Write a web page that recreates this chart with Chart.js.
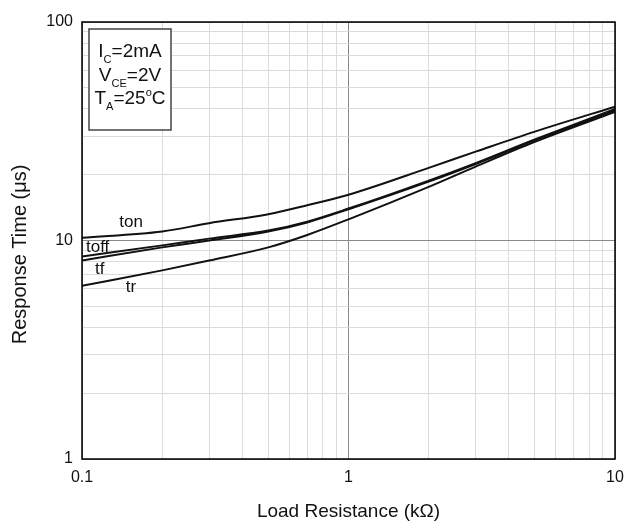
<!DOCTYPE html>
<html>
<head>
<meta charset="utf-8">
<script src="https://cdn.jsdelivr.net/npm/chart.js@4"></script>
<style>
html, body { margin: 0; padding: 0; background: #fff; }
#wrap { width: 635px; height: 523px; }
</style>
</head>
<body>
<div id="wrap"><canvas id="chart"></canvas></div>
<script>
// load resistance (kOhm) and response times (us)
const loadRes = [0.1, 0.2, 0.3, 0.5, 0.7, 1, 2, 3, 5, 10];
const tOn  = [10.3, 11.0, 12.0, 13.2, 14.5, 16.2, 21.5, 25.5, 31.5, 41.0];
const tOff = [8.45, 9.5, 10.2, 11.1, 12.2, 14.0, 18.8, 22.6, 29.0, 40.0];
const tF   = [8.1, 9.3, 10.0, 11.0, 12.1, 13.9, 18.6, 22.4, 28.8, 39.3];
const tR   = [6.2, 7.3, 8.1, 9.3, 10.6, 12.5, 17.6, 21.8, 28.3, 38.8];

const xTicks = [0.1, 1, 10];
const yTicks = [1, 10, 100];
const curveNames = ['ton', 'toff', 'tf', 'tr'];

const font = "'Liberation Sans', Arial, sans-serif";

function pts(ys) {
    return loadRes.map((x, i) => ({x: x, y: ys[i]}));
}

// every 1..9 step of each decade, for the grid
function logSteps(min, max) {
    let out = [];
    for (let d = min; d < max * 0.999; d *= 10) {
        for (let k = 1; k <= 9; k++) out.push({value: +(k * d).toPrecision(6)});
    }
    out.push({value: max});
    return out;
}

function isMajor(v) {
    return Math.abs(Math.log10(v) - Math.round(Math.log10(v))) < 1e-6;
}

function labelFor(list) {
    return function (v) {
        let hit = list.find(t => Math.abs(t - v) / t < 1e-6);
        return hit === undefined ? '' : String(hit);
    };
}

// where the curve names sit (data coords, left/baseline)
const nameAt = [[0.138, 11.5], [0.1035, 8.9], [0.112, 7.0], [0.146, 5.79]];

const extras = {
    id: 'extras',
    afterDatasetsDraw(chart) {
        const ctx = chart.ctx;
        const a = chart.chartArea;
        const xs = chart.scales.x, ys = chart.scales.y;
        ctx.save();

        // frame
        ctx.strokeStyle = '#000';
        ctx.lineWidth = 1.5;
        ctx.strokeRect(a.left, a.top, a.right - a.left, a.bottom - a.top);

        // curve names
        ctx.fillStyle = '#111';
        ctx.font = '17px ' + font;
        ctx.textAlign = 'left';
        ctx.textBaseline = 'alphabetic';
        curveNames.forEach((n, i) => {
            ctx.fillText(n, xs.getPixelForValue(nameAt[i][0]), ys.getPixelForValue(nameAt[i][1]));
        });

        // conditions box
        const bx = a.left + 7, by = a.top + 7;
        ctx.fillStyle = '#fff';
        ctx.fillRect(bx, by, 82, 101);
        ctx.strokeStyle = '#444';
        ctx.lineWidth = 1.5;
        ctx.strokeRect(bx, by, 82, 101);

        const lines = [
            [['I', 0], ['C', 1], ['=2mA', 0]],
            [['V', 0], ['CE', 1], ['=2V', 0]],
            [['T', 0], ['A', 1], ['=25', 0], ['o', 2], ['C', 0]]
        ];
        const cx = bx + 41;
        lines.forEach((parts, li) => {
            const base = by + 28 + li * 23.5;
            let w = 0;
            parts.forEach(p => {
                ctx.font = (p[1] ? '11px ' : '19px ') + font;
                p.w = ctx.measureText(p[0]).width;
                w += p.w;
            });
            let x = cx - w / 2;
            ctx.fillStyle = '#111';
            ctx.textAlign = 'left';
            parts.forEach(p => {
                ctx.font = (p[1] ? '11px ' : '19px ') + font;
                let dy = p[1] === 1 ? 6 : (p[1] === 2 ? -8 : 0);
                ctx.fillText(p[0], x, base + dy);
                x += p.w;
            });
        });
        ctx.restore();
    }
};

new Chart(document.getElementById('chart'), {
    type: 'line',
    data: {
        datasets: [tOn, tOff, tF, tR].map((d, i) => ({
            label: curveNames[i],
            data: pts(d),
            borderColor: '#111',
            borderWidth: 2,
            pointRadius: 0,
            fill: false,
            cubicInterpolationMode: 'monotone'
        }))
    },
    options: {
        responsive: true,
        maintainAspectRatio: false,
        animation: false,
        layout: { padding: { top: 22, right: 20, left: 0, bottom: 0 } },
        plugins: {
            legend: { display: false },
            tooltip: { enabled: false }
        },
        scales: {
            x: {
                type: 'logarithmic',
                min: 0.1,
                max: 10,
                afterBuildTicks: s => { s.ticks = logSteps(0.1, 10); },
                afterFit: s => { s.height = 64; },
                grid: {
                    drawTicks: false,
                    color: c => isMajor(c.tick.value) ? '#8a8a8a' : '#dcdcdc',
                    lineWidth: 1
                },
                border: { display: false },
                ticks: {
                    autoSkip: false,
                    maxRotation: 0,
                    padding: 9,
                    color: '#111',
                    font: { family: font, size: 16 },
                    callback: labelFor(xTicks)
                },
                title: {
                    display: true,
                    text: 'Load Resistance (kΩ)',
                    color: '#111',
                    font: { family: font, size: 19 },
                    padding: { top: 0, bottom: 0 }
                }
            },
            y: {
                type: 'logarithmic',
                min: 1,
                max: 100,
                afterBuildTicks: s => { s.ticks = logSteps(1, 100); },
                afterFit: s => { s.width = 82; },
                grid: {
                    drawTicks: false,
                    color: c => isMajor(c.tick.value) ? '#8a8a8a' : '#dcdcdc',
                    lineWidth: 1
                },
                border: { display: false },
                ticks: {
                    autoSkip: false,
                    padding: 9,
                    color: '#111',
                    font: { family: font, size: 16 },
                    callback: labelFor(yTicks)
                },
                title: {
                    display: true,
                    text: 'Response Time (μs)     ',
                    color: '#111',
                    font: { family: font, size: 20 },
                    padding: { top: 8, bottom: 8 }
                }
            }
        }
    },
    plugins: [extras]
});
</script>
</body>
</html>
